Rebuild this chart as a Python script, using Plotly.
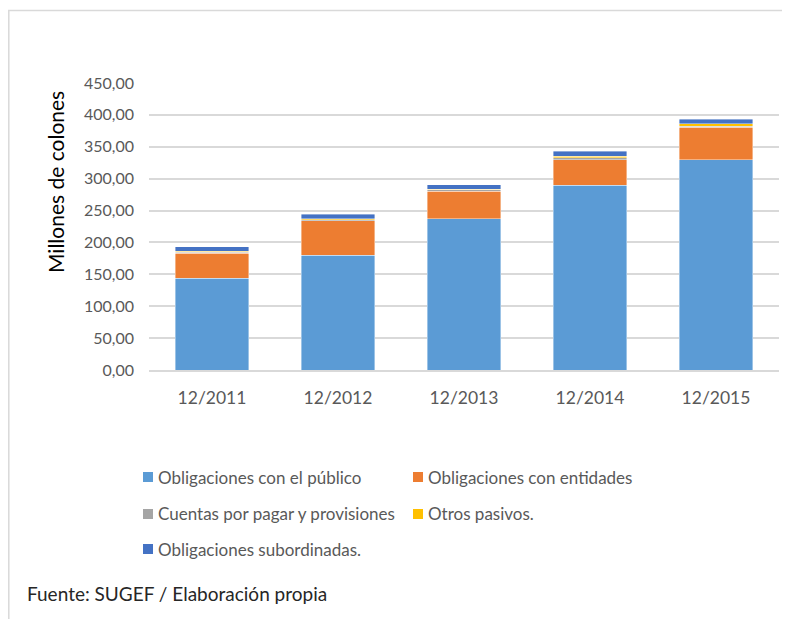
import plotly.graph_objects as go

# datos (millones de colones)
periodos = ["12/2011", "12/2012", "12/2013", "12/2014", "12/2015"]
series = [
    "Obligaciones con el público",
    "Obligaciones con entidades",
    "Cuentas por pagar y provisiones",
    "Otros pasivos.",
    "Obligaciones subordinadas.",
]
publico = [144, 180, 237, 290, 330]
entidades = [39, 54, 43, 40, 51]
cuentas = [1.5, 1.5, 3, 2.5, 1.5]
otros = [2, 2, 0.5, 2.5, 3.5]
subordinadas = [7, 7, 7, 8, 7.5]
colores = ["#5B9BD5", "#ED7D31", "#A5A5A5", "#FFC000", "#4472C4"]

valores = [publico, entidades, cuentas, otros, subordinadas]

FONT = "Lato"
# la pagina tiene 8px de margen, la figura empieza en (8, 8)
W, H = 782, 611
L, R, T, B = 141, 11, 75, 249
PW, PH = W - L - R, H - T - B


def xp(sx):
    # pixel de pantalla -> coordenada paper
    return (sx - 8 - L) / PW


def yp(sy):
    return (H - B - (sy - 8)) / PH


fig = go.Figure()
for nombre, vals, col in zip(series, valores, colores):
    fig.add_trace(go.Bar(x=periodos, y=vals, name=nombre, marker_color=col,
                         marker_line=dict(color="rgba(255,255,255,0.5)", width=0.8),
                         showlegend=False))

fig.update_layout(
    width=W, height=H,
    barmode="stack", bargap=0.42,
    separators=",.",
    paper_bgcolor="white", plot_bgcolor="white",
    margin=dict(l=L, r=R, t=T, b=B),
    font=dict(family=FONT, color="#595959"),
)
fig.update_yaxes(range=[0, 450], dtick=50, tickformat=".2f",
                 showgrid=True, gridcolor="#d9d9d9", gridwidth=1.5,
                 zeroline=False, showline=False,
                 tickfont=dict(size=16, color="#595959"), ticks="", ticklabelstandoff=14)
fig.update_xaxes(showline=True, linecolor="#d9d9d9", linewidth=1.5,
                 tickfont=dict(size=17.5, color="#595959"), ticks="", ticklabelstandoff=11)

# titulo del eje y
fig.add_annotation(text="Millones de colones", xref="paper", yref="paper",
                   x=xp(55), y=yp(182), textangle=-90, showarrow=False,
                   xanchor="center", yanchor="middle",
                   font=dict(size=21, color="#000000", family=FONT))

# leyenda manual (dos columnas)
pos = [(143, 477), (413, 477), (143, 514), (413, 514), (143, 549)]
for nombre, col, (px, py) in zip(series, colores, pos):
    fig.add_shape(type="rect", xref="paper", yref="paper",
                  x0=xp(px), x1=xp(px + 10), y0=yp(py + 5), y1=yp(py - 5),
                  fillcolor=col, line_width=0)
    fig.add_annotation(text=nombre, xref="paper", yref="paper",
                       x=xp(px + 13), y=yp(py), xanchor="left", yanchor="middle",
                       showarrow=False, font=dict(size=17, color="#595959", family=FONT))

# marco
fig.add_shape(type="rect", xref="paper", yref="paper",
              x0=xp(8.8), x1=xp(800), y0=yp(640), y1=yp(10.5),
              line=dict(color="#d9d9d9", width=1.5), fillcolor="rgba(0,0,0,0)")

fig.add_annotation(text="Fuente: SUGEF / Elaboración propia", xref="paper", yref="paper",
                   x=xp(25), y=yp(593), xanchor="left", yanchor="middle",
                   showarrow=False, font=dict(size=19, color="#262626", family=FONT))

fig.write_html("out.html")
